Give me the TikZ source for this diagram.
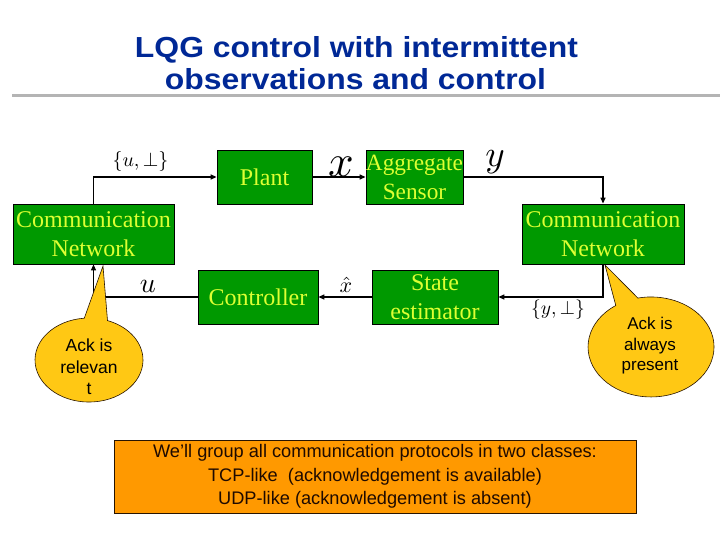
\documentclass[tikz,border=0pt]{standalone}
\usepackage{graphicx}
\usepackage{fontspec}
\setmainfont{Liberation Serif}
\newfontfamily\arialf{Liberation Sans}
\usetikzlibrary{arrows.meta}
\definecolor{boxgreen}{RGB}{0,153,0}
\definecolor{boxtext}{RGB}{221,255,51}
\definecolor{titleblue}{RGB}{0,40,150}
\definecolor{calloutfill}{RGB}{255,200,20}
\definecolor{notefill}{RGB}{255,153,0}
\definecolor{rulegray}{RGB}{180,180,180}
\definecolor{outline}{RGB}{40,20,0}
\definecolor{notetext}{RGB}{30,10,0}
\begin{document}
\begin{tikzpicture}[x=1pt,y=1pt,
  block/.style={draw=black, line width=0.8pt, fill=boxgreen, text=boxtext, align=center,
    inner sep=0pt, font=\fontsize{24}{29}\selectfont},
  conn/.style={line width=1.4pt, -{Triangle[length=6pt,width=5pt]}},
  mlabel/.style={inner sep=0pt},
  callout/.style={draw=outline, line width=0.6pt, fill=calloutfill},
  calltext/.style={align=center, inner sep=0pt, text=black},
  titletext/.style={text=titleblue, inner sep=0pt, anchor=base,
    font=\arialf\bfseries\fontsize{29}{36}\selectfont},
]
\useasboundingbox (0,0) rectangle (720,-540);

% title
\node[titletext] (t1) at (356.5,-58) {\scalebox{1.1}[1]{LQG control with intermittent}};
\node[titletext] (t2) at (355.5,-90) {\scalebox{1.1}[1]{observations and control}};
\fill[rulegray] (12,-94) rectangle (720,-97);

% blocks
\node[block, minimum width=161pt, minimum height=60pt] (cnL) at (93.5,-234) {Communication\\Network};
\node[block, minimum width=95pt, minimum height=54pt] (plant) at (264.5,-177) {Plant};
\node[block, minimum width=97pt, minimum height=54pt, font=\fontsize{23.3}{29}\selectfont] (agg) at (414.5,-177) {Aggregate\\Sensor};
\node[block, minimum width=162pt, minimum height=60pt] (cnR) at (603,-234) {Communication\\Network};
\node[block, minimum width=120pt, minimum height=54pt] (ctrl) at (258,-297) {Controller};
\node[block, minimum width=126pt, minimum height=54pt] (est) at (435,-297) {State\\estimator};

% connectors
\draw[conn] (cnL.north) |- (plant.west);
\draw[conn] (plant.east) -- (agg.west);
\draw[conn] (agg.east) -| (cnR.north);
\draw[conn] (cnR.south) |- (est.east);
\draw[conn] (est.west) -- (ctrl.east);
\draw[conn] (ctrl.west) -| (cnL.south);

% connector labels
\node[mlabel] (lu1) at (140.5,-162) {\scalebox{2.0}{$\{u,\perp\}$}};
\node[mlabel] (lx) at (341,-167) {\scalebox{4.5}{$x$}};
\node[mlabel] (ly) at (495,-162) {\scalebox{3.7}{$y$}};
\node[mlabel] (ly1) at (558,-310) {\scalebox{1.95}{$\{y,\perp\}$}};
\node[mlabel] (lxh) at (346,-285) {\scalebox{2.2}{$\hat{x}$}};
\node[mlabel] (lu) at (148,-286) {\scalebox{2.8}{$u$}};

% callouts
\path[callout] (107.5,-320.5) -- (103,-266) -- (84.3,-318.2)
  arc[start angle=95, end angle=430, x radius=54, y radius=42] -- cycle;
\node[calltext, font=\arialf\fontsize{17.5}{21.5}\selectfont] (ackL) at (89,-367) {Ack is\\relevan\\t};
\path[callout] (637.9,-298.1) -- (605,-265) -- (615.8,-305.5)
  arc[start angle=124, end angle=462, x radius=63, y radius=50] -- cycle;
\node[calltext, font=\arialf\fontsize{17}{20.5}\selectfont] (ackR) at (650,-346) {Ack is\\always\\present};

% note
\node[draw=outline, line width=0.8pt, fill=notefill, minimum width=522pt, minimum height=73pt,
  inner sep=0pt, align=center, text=notetext, font=\arialf\fontsize{18.2}{23.5}\selectfont] (note) at (375,-476.5)
  {We’ll group all communication protocols in two classes:\\
   TCP-like\ \ (acknowledgement is available)\\
   UDP-like (acknowledgement is absent)};
\end{tikzpicture}
\end{document}
